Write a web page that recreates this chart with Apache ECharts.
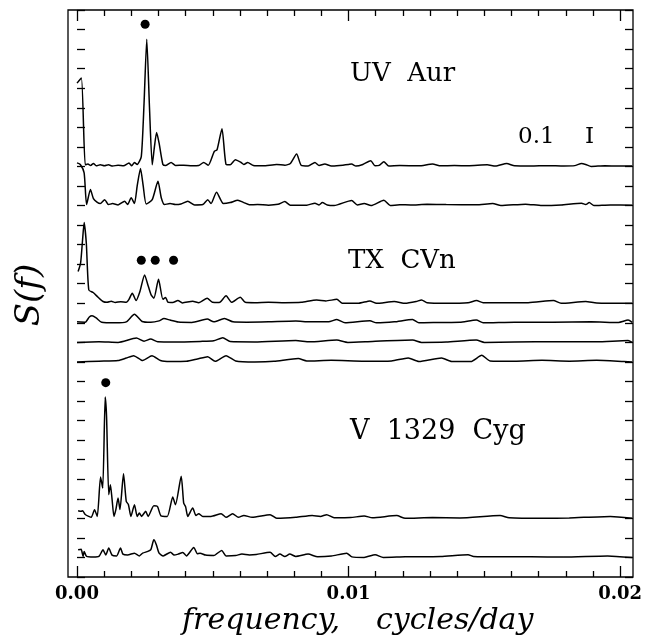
<!DOCTYPE html>
<html>
<head>
<meta charset="utf-8">
<script src="https://cdn.jsdelivr.net/npm/echarts@6/dist/echarts.min.js"></script>
<style>
  html, body { margin: 0; padding: 0; background: #fff; }
  #chart { width: 645px; height: 635px; }
</style>
</head>
<body>
<div id="chart"></div>
<script>
// frequencies in 1e-3 cycles/day, power above each trace's own baseline
const uvAur = [[0.00,4.26],[0.16,4.52],[0.30,0.08],[0.40,0.12],[0.50,0.05],[0.60,0.15],[0.70,0.03],[0.85,0.08],[1.00,0.03],[1.15,0.08],[1.30,0.02],[1.50,0.06],[1.70,0.03],[1.90,0.18],[2.00,0.03],[2.10,0.2],[2.20,0.1],[2.35,0.5],[2.45,3.2],[2.55,6.51],[2.65,3.0],[2.75,0.08],[2.83,1.0],[2.91,1.74],[3.00,1.2],[3.14,0.1],[3.25,0.05],[3.44,0.2],[3.60,0.05],[3.90,0.06],[4.20,0.04],[4.45,0.05],[4.63,0.2],[4.80,0.06],[5.02,0.77],[5.12,0.85],[5.30,1.93],[5.45,0.1],[5.60,0.08],[5.79,0.34],[6.00,0.2],[6.10,0.1],[6.24,0.2],[6.45,0.05],[6.80,0.03],[7.30,0.1],[7.60,0.06],[7.80,0.15],[8.03,0.63],[8.20,0.05],[8.45,0.02],[8.70,0.2],[8.85,0.05],[9.06,0.12],[9.30,0.02],[9.60,0.05],[9.93,0.1],[10.04,0.12],[10.20,0.02],[10.45,0.1],[10.74,0.29],[10.90,0.03],[11.05,0.05],[11.22,0.24],[11.40,0.02],[11.80,0.05],[12.50,0.03],[13.00,0.12],[13.30,0.03],[13.80,0.05],[14.30,0.03],[15.00,0.08],[15.30,0.02],[15.71,0.15],[16.00,0.03],[16.60,0.02],[17.20,0.04],[17.80,0.02],[18.20,0.04],[18.45,0.15],[18.60,0.1],[18.80,0.0],[19.30,0.03],[19.80,0.02],[20.30,0.02]];
const uvAur2 = [[0.00,2.18],[0.12,2.1],[0.26,1.67],[0.35,0.05],[0.49,0.82],[0.60,0.35],[0.73,0.17],[0.85,0.1],[1.01,0.3],[1.15,0.05],[1.30,0.1],[1.50,0.03],[1.74,0.22],[1.85,0.05],[1.98,0.4],[2.10,0.1],[2.20,1.0],[2.32,1.89],[2.42,1.0],[2.53,0.08],[2.75,0.3],[2.96,1.24],[3.08,0.4],[3.20,0.05],[3.40,0.1],[3.60,0.05],[3.80,0.08],[4.05,0.22],[4.30,0.03],[4.60,0.05],[4.78,0.3],[4.90,0.1],[5.10,0.68],[5.35,0.1],[5.60,0.15],[5.88,0.27],[6.10,0.15],[6.30,0.04],[6.60,0.05],[7.00,0.02],[7.35,0.06],[7.60,0.2],[7.80,0.02],[8.40,0.02],[8.70,0.12],[8.85,0.03],[8.97,0.15],[9.15,0.03],[9.40,0.0],[10.04,0.26],[10.25,0.03],[10.50,0.1],[10.75,0.0],[11.22,0.27],[11.45,0.0],[11.80,0.04],[12.20,0.03],[12.80,0.06],[13.50,0.05],[14.60,0.04],[15.20,0.1],[15.50,0.0],[16.40,0.07],[17.00,0.0],[17.70,0.03],[18.45,0.12],[18.60,0.05],[18.73,0.15],[18.90,0.0],[19.50,0.03],[20.30,0.02]];
const txCVn = [[0.04,1.62],[0.13,2.05],[0.20,3.2],[0.26,4.13],[0.34,3.07],[0.43,0.68],[0.59,0.55],[0.77,0.31],[0.95,0.09],[1.10,0.05],[1.25,0.1],[1.40,0.04],[1.60,0.08],[1.80,0.05],[1.90,0.2],[2.02,0.51],[2.16,0.14],[2.30,0.6],[2.47,1.45],[2.60,0.9],[2.71,0.43],[2.81,0.26],[2.98,1.23],[3.14,0.2],[3.24,0.3],[3.32,0.06],[3.50,0.04],[3.69,0.14],[3.85,0.02],[4.23,0.1],[4.45,0.03],[4.76,0.26],[4.95,0.05],[5.20,0.04],[5.45,0.38],[5.65,0.05],[5.97,0.31],[6.15,0.05],[6.50,0.03],[7.00,0.05],[7.60,0.03],[8.20,0.05],[8.76,0.17],[9.10,0.12],[9.50,0.2],[9.70,0.0],[10.30,0.0],[10.71,0.12],[10.95,0.0],[11.60,0.09],[12.00,0.0],[12.40,0.09],[12.60,0.17],[12.80,0.03],[13.50,0.0],[14.30,0.03],[14.61,0.14],[14.85,0.03],[15.50,0.03],[16.50,0.03],[17.42,0.14],[17.70,0.0],[18.60,0.09],[19.00,0.02],[20.30,0.0]];
const txCVn2 = [[0.00,0.05],[0.30,0.03],[0.45,0.3],[0.55,0.36],[0.70,0.25],[0.90,0.03],[1.40,0.0],[1.80,0.05],[2.10,0.44],[2.38,0.07],[2.70,0.03],[3.00,0.1],[3.18,0.22],[3.40,0.14],[3.70,0.04],[4.20,0.02],[4.76,0.19],[5.00,0.05],[5.39,0.22],[5.70,0.05],[6.20,0.03],[7.00,0.05],[8.00,0.09],[8.50,0.05],[9.20,0.05],[9.50,0.17],[9.80,0.0],[10.71,0.1],[10.95,0.0],[11.60,0.05],[12.27,0.17],[12.50,0.0],[13.30,0.02],[14.00,0.03],[14.60,0.14],[14.85,0.0],[16.00,0.03],[17.40,0.03],[18.80,0.05],[19.80,0.02],[20.15,0.14],[20.30,0.02]];
const txCVn3 = [[0.00,0.0],[0.80,0.03],[1.50,0.0],[2.17,0.22],[2.45,0.06],[2.69,0.17],[2.95,0.03],[3.60,0.02],[4.50,0.05],[5.00,0.08],[5.33,0.24],[5.60,0.04],[6.50,0.02],[8.00,0.09],[8.50,0.03],[9.50,0.12],[9.90,0.0],[10.80,0.05],[12.27,0.12],[12.60,0.0],[13.50,0.02],[14.60,0.12],[14.90,0.0],[16.00,0.02],[17.50,0.03],[19.00,0.03],[20.15,0.09],[20.30,0.0]];
const txCVn4 = [[0.00,0.0],[0.80,0.04],[1.50,0.07],[1.80,0.2],[2.07,0.32],[2.40,0.07],[2.74,0.31],[3.05,0.07],[3.40,0.02],[4.00,0.03],[4.40,0.15],[4.78,0.27],[5.05,0.03],[5.45,0.32],[5.80,0.05],[6.50,0.0],[7.20,0.03],[8.09,0.17],[8.40,0.05],[9.30,0.08],[10.50,0.03],[11.50,0.05],[12.11,0.2],[12.50,0.02],[13.33,0.2],[13.70,0.02],[14.40,0.02],[14.80,0.34],[15.10,0.05],[16.00,0.03],[17.00,0.08],[18.00,0.04],[19.00,0.08],[20.00,0.02],[20.30,0.0]];
const v1329Cyg = [[0.04,0.39],[0.15,0.36],[0.20,0.39],[0.30,0.2],[0.43,0.1],[0.52,0.05],[0.64,0.44],[0.74,0.1],[0.86,2.11],[0.94,1.55],[1.03,6.2],[1.08,5.2],[1.16,1.21],[1.22,1.72],[1.28,1.0],[1.35,0.1],[1.42,0.45],[1.50,1.04],[1.57,0.45],[1.70,2.28],[1.80,0.87],[1.88,0.7],[1.97,0.1],[2.10,0.7],[2.20,0.1],[2.28,0.27],[2.36,0.1],[2.51,0.36],[2.60,0.1],[2.81,0.65],[2.94,0.61],[3.07,0.13],[3.30,0.1],[3.50,1.09],[3.60,0.7],[3.81,2.15],[3.90,0.78],[3.97,0.6],[4.05,0.1],[4.23,0.53],[4.35,0.14],[4.45,0.24],[4.60,0.1],[4.90,0.1],[5.27,0.24],[5.45,0.05],[5.69,0.24],[5.90,0.05],[6.10,0.15],[6.40,0.05],[7.06,0.19],[7.30,0.0],[8.00,0.05],[8.60,0.15],[8.90,0.1],[9.13,0.19],[9.40,0.03],[10.00,0.04],[10.50,0.12],[10.80,0.03],[11.69,0.14],[12.00,0.0],[13.00,0.04],[14.00,0.02],[15.47,0.14],[15.80,0.03],[17.00,0.0],[18.00,0.02],[19.50,0.1],[20.30,0.0]];
const v1329Cyg2 = [[0.04,0.39],[0.15,0.42],[0.22,0.05],[0.26,0.3],[0.35,0.05],[0.60,0.02],[0.80,0.05],[0.95,0.39],[1.05,0.13],[1.16,0.48],[1.28,0.12],[1.45,0.08],[1.59,0.48],[1.68,0.17],[1.85,0.13],[2.10,0.22],[2.28,0.08],[2.40,0.22],[2.59,0.31],[2.70,0.4],[2.81,0.9],[2.90,0.65],[3.00,0.22],[3.15,0.08],[3.42,0.27],[3.55,0.12],[3.70,0.17],[3.87,0.25],[4.00,0.08],[4.27,0.51],[4.40,0.19],[4.50,0.22],[4.70,0.12],[5.00,0.1],[5.29,0.36],[5.45,0.08],[5.80,0.1],[6.03,0.17],[6.30,0.13],[6.55,0.15],[7.06,0.27],[7.25,0.05],[7.42,0.17],[7.60,0.05],[7.78,0.17],[8.00,0.05],[8.45,0.17],[8.80,0.03],[9.30,0.07],[9.86,0.22],[10.05,0.03],[10.50,0.0],[10.90,0.14],[11.20,0.0],[12.00,0.03],[13.30,0.05],[14.30,0.14],[14.50,0.05],[15.50,0.03],[16.60,0.03],[17.80,0.02],[19.40,0.08],[20.30,0.0]];

const traces = [uvAur, uvAur2, txCVn, txCVn2, txCVn3, txCVn4, v1329Cyg, v1329Cyg2];
const offsets = [21, 19, 14, 13, 12, 11, 3, 1];
// marked peaks (dots), same units
const dots = [[2.49,28.27],[2.35,16.2],[2.86,16.2],[3.53,16.2],[1.05,9.94]];
const xTicks = [0, 0.01, 0.02];

const myChart = echarts.init(document.getElementById('chart'));
const serif = 'DejaVu Serif';

let series = traces.map((tr, i) => ({
    type: 'line',
    xAxisIndex: 0,
    yAxisIndex: 0,
    showSymbol: false,
    symbol: 'none',
    silent: true,
    smooth: 0.2,
    lineStyle: { color: '#000', width: 1.5 },
    data: tr.map(p => [p[0] / 1000, p[1] + offsets[i]])
}));
series.push({
    type: 'scatter',
    xAxisIndex: 0,
    yAxisIndex: 0,
    symbolSize: 9,
    silent: true,
    itemStyle: { color: '#000', opacity: 1 },
    data: dots.map(p => [p[0] / 1000, p[1]])
});

const option = {
    animation: false,
    backgroundColor: '#fff',
    grid: [
        { left: 68, top: 10, width: 565, height: 567, show: true, borderColor: '#000', borderWidth: 1.3, backgroundColor: 'transparent' },
        { left: 77, top: 10, width: 547, height: 567 }
    ],
    xAxis: [
        { gridIndex: 0, type: 'value', min: -0.00033, max: 0.02033, show: false },
        {
            gridIndex: 1, type: 'value', position: 'bottom', min: xTicks[0], max: xTicks[2], interval: 0.01,
            axisLine: { show: false },
            axisTick: { inside: true, length: 11, lineStyle: { color: '#000', width: 1.3 } },
            minorTick: { show: true, splitNumber: 10, length: 6, lineStyle: { color: '#000', width: 1.3 } },
            splitLine: { show: false },
            axisLabel: { margin: 8, color: '#000', fontFamily: serif, fontWeight: 'bold', fontSize: 18, formatter: v => v.toFixed(2) }
        },
        {
            gridIndex: 1, type: 'value', position: 'top', min: xTicks[0], max: xTicks[2], interval: 0.01,
            axisLine: { show: false },
            axisTick: { inside: true, length: 11, lineStyle: { color: '#000', width: 1.3 } },
            minorTick: { show: true, splitNumber: 10, length: 6, lineStyle: { color: '#000', width: 1.3 } },
            splitLine: { show: false },
            axisLabel: { show: false }
        }
    ],
    yAxis: [
        {
            gridIndex: 0, type: 'value', position: 'left', min: 0, max: 29, interval: 1,
            axisLine: { show: false },
            axisTick: { inside: true, length: 8, lineStyle: { color: '#000', width: 1.3 } },
            axisLabel: { show: false },
            splitLine: { show: false }
        },
        {
            gridIndex: 0, type: 'value', position: 'right', min: 0, max: 29, interval: 1,
            axisLine: { show: false },
            axisTick: { inside: true, length: 8, lineStyle: { color: '#000', width: 1.3 } },
            axisLabel: { show: false },
            splitLine: { show: false }
        },
        { gridIndex: 1, type: 'value', min: 0, max: 29, show: false }
    ],
    graphic: [
        { type: 'text', left: 350, top: 61, style: { text: 'UV  Aur', font: '26px "DejaVu Serif"', fill: '#000' } },
        { type: 'text', left: 518, top: 126, style: { text: '0.1', font: '23px "DejaVu Serif"', fill: '#000' } },
        { type: 'text', left: 585, top: 126, style: { text: 'I', font: '23px "DejaVu Serif"', fill: '#000' } },
        { type: 'text', left: 348, top: 248, style: { text: 'TX  CVn', font: '26px "DejaVu Serif"', fill: '#000' } },
        { type: 'text', left: 350, top: 418, style: { text: 'V  1329  Cyg', font: '27px "DejaVu Serif"', fill: '#000' } },
        { type: 'text', left: 182, top: 606, style: { text: 'frequency,', font: 'italic 30px "DejaVu Serif"', fill: '#000' } },
        { type: 'text', left: 376, top: 606, style: { text: 'cycles/day', font: 'italic 30px "DejaVu Serif"', fill: '#000' } },
        { type: 'text', x: 30, y: 295, rotation: Math.PI / 2, style: { text: 'S(f)', font: 'italic 34px "DejaVu Serif"', fill: '#000', align: 'center', verticalAlign: 'middle' } }
    ],
    series: series
};
myChart.setOption(option);
</script>
</body>
</html>
